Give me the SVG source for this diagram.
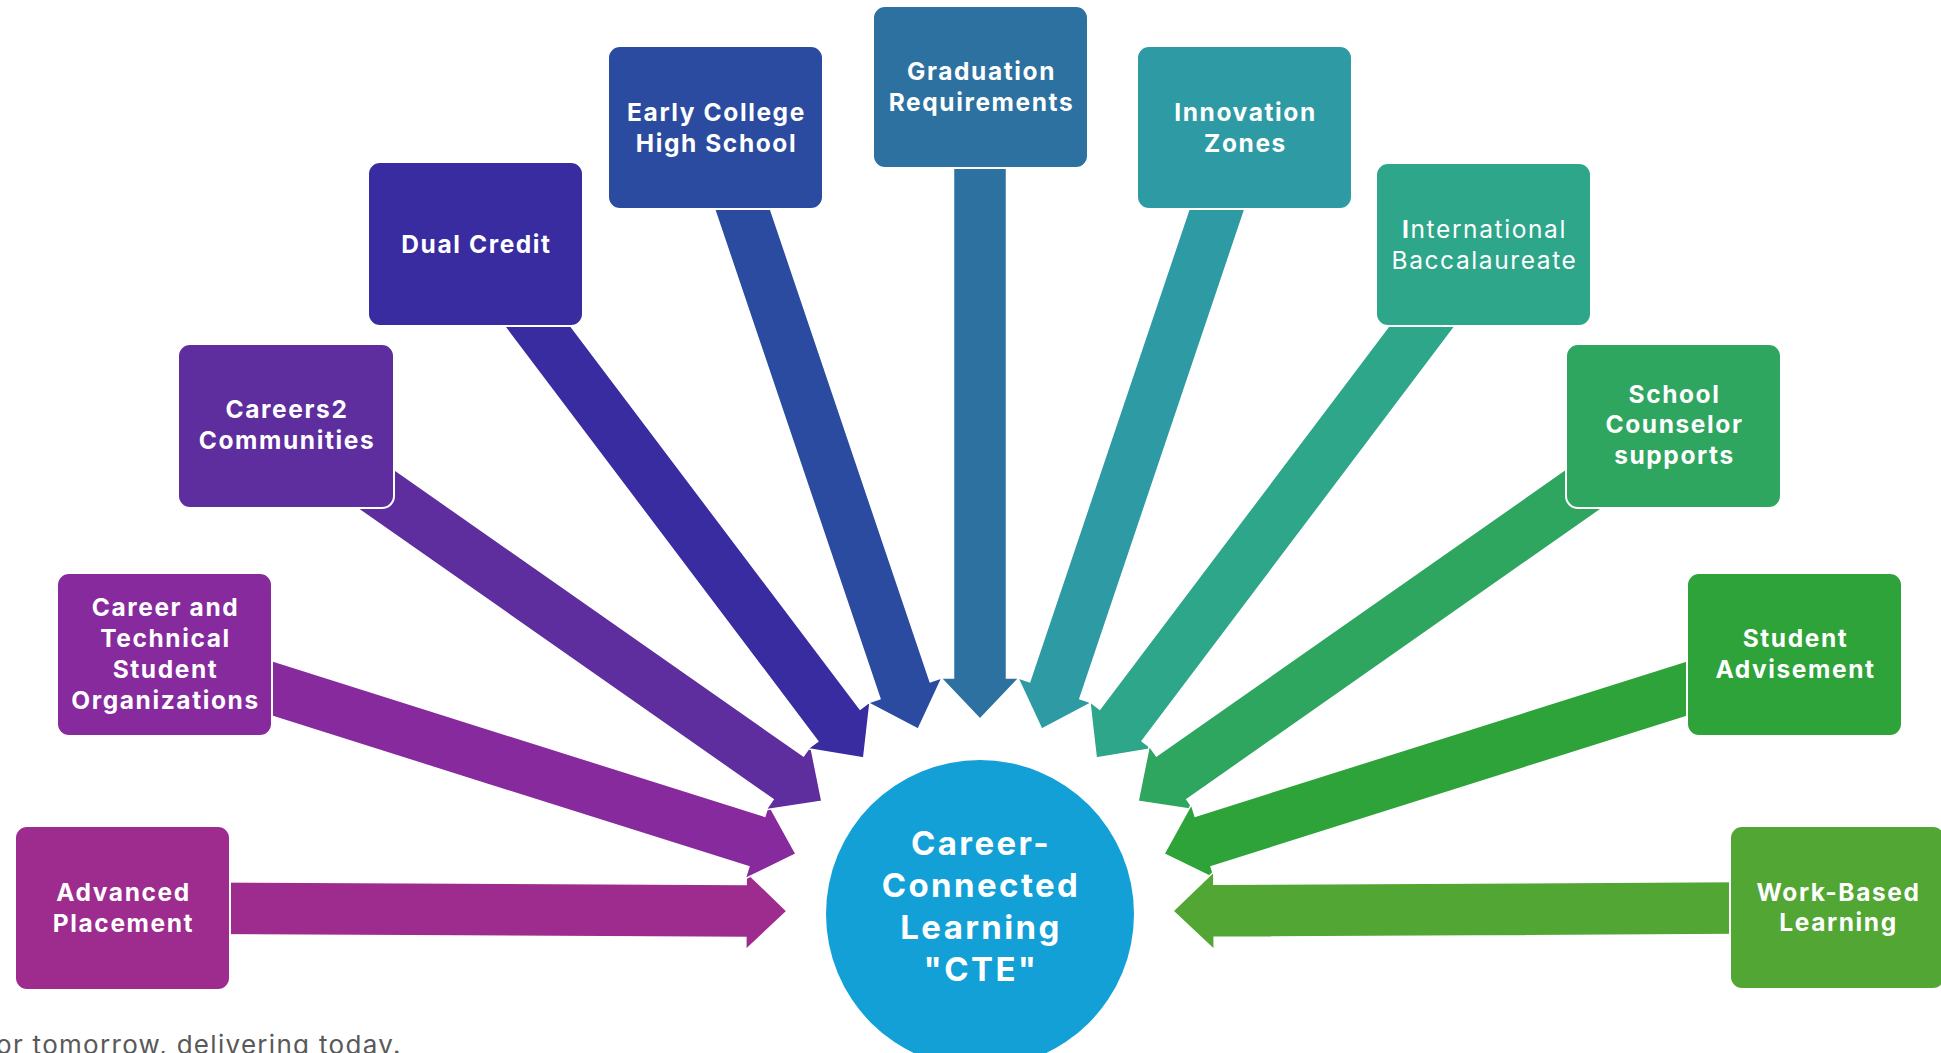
<svg xmlns="http://www.w3.org/2000/svg" width="1941" height="1053" viewBox="0 0 1941 1053">
<defs>
<style>
.box{stroke:#ffffff;stroke-width:2}
.arr{stroke:#ffffff;stroke-width:1.5;stroke-linejoin:miter}
.lbl{font-family:Inter,"Open Sans","Liberation Sans",sans-serif;font-weight:700;font-size:24.5px;letter-spacing:1.6px;fill:#ffffff;text-anchor:middle}
.reg{font-weight:400}
.ctr{font-family:Inter,"Open Sans","Liberation Sans",sans-serif;font-weight:700;font-size:33px;letter-spacing:2.4px;fill:#ffffff;text-anchor:middle}
.foot{font-family:Inter,"Open Sans","Liberation Sans",sans-serif;font-size:26px;letter-spacing:1.3px;fill:#595959}
</style>
</defs>
<rect width="1941" height="1053" fill="#ffffff"/>
<g id="connectors">
<path class="arr" fill="#9E2B8E" transform="translate(980,912) rotate(0.27)" d="M-857,-26.5 L-234,-26.5 L-234,-39 L-193,0 L-234,39 L-234,26.5 L-857,26.5 Z"/>
<path class="arr" fill="#862A9E" transform="translate(980,912) rotate(17.52)" d="M-855,-26.5 L-234,-26.5 L-234,-39 L-193,0 L-234,39 L-234,26.5 L-855,26.5 Z"/>
<path class="arr" fill="#5E2D9E" transform="translate(980,912) rotate(35.0)" d="M-847,-26.5 L-234,-26.5 L-234,-39 L-193,0 L-234,39 L-234,26.5 L-847,26.5 Z"/>
<path class="arr" fill="#392BA0" transform="translate(980,912) rotate(52.94)" d="M-837,-26.5 L-234,-26.5 L-234,-39 L-193,0 L-234,39 L-234,26.5 L-837,26.5 Z"/>
<path class="arr" fill="#2B4BA0" transform="translate(980,912) rotate(71.33)" d="M-828,-26.5 L-234,-26.5 L-234,-39 L-193,0 L-234,39 L-234,26.5 L-828,26.5 Z"/>
<path class="arr" fill="#2C71A0" transform="translate(980,912) rotate(90)" d="M-825,-26.5 L-234,-26.5 L-234,-39 L-193,0 L-234,39 L-234,26.5 L-825,26.5 Z"/>
<path class="arr" fill="#2E9BA4" transform="translate(980,912) rotate(108.63)" d="M-828,-26.5 L-234,-26.5 L-234,-39 L-193,0 L-234,39 L-234,26.5 L-828,26.5 Z"/>
<path class="arr" fill="#2DA68A" transform="translate(980,912) rotate(127.03)" d="M-837,-26.5 L-234,-26.5 L-234,-39 L-193,0 L-234,39 L-234,26.5 L-837,26.5 Z"/>
<path class="arr" fill="#2EA660" transform="translate(980,912) rotate(144.98)" d="M-847,-26.5 L-234,-26.5 L-234,-39 L-193,0 L-234,39 L-234,26.5 L-847,26.5 Z"/>
<path class="arr" fill="#2EA33A" transform="translate(980,912) rotate(162.46)" d="M-855,-26.5 L-234,-26.5 L-234,-39 L-193,0 L-234,39 L-234,26.5 L-855,26.5 Z"/>
<path class="arr" fill="#52A633" transform="translate(980,912) rotate(179.7)" d="M-857,-26.5 L-234,-26.5 L-234,-39 L-193,0 L-234,39 L-234,26.5 L-857,26.5 Z"/>
</g>
<g id="node-center">
<circle cx="980" cy="914" r="154" fill="#12A0D7"/>
<text class="ctr" x="981" y="855">Career-</text>
<text class="ctr" x="981" y="897">Connected</text>
<text class="ctr" x="981" y="939">Learning</text>
<text class="ctr" x="981" y="981">"CTE"</text>
</g>
<g id="node-ap">
<rect class="box" x="15" y="826" width="215" height="164" rx="12" fill="#9E2B8E"/>
<text class="lbl" x="123.5" y="901">Advanced</text>
<text class="lbl" x="123.5" y="932">Placement</text>
</g>
<g id="node-ctso">
<rect class="box" x="57" y="573" width="215" height="163" rx="12" fill="#862A9E"/>
<text class="lbl" x="165.5" y="615.5">Career and</text>
<text class="lbl" x="165.5" y="646.5">Technical</text>
<text class="lbl" x="165.5" y="677.5">Student</text>
<text class="lbl" x="165.5" y="708.5">Organizations</text>
</g>
<g id="node-c2c">
<rect class="box" x="178" y="344" width="216" height="164" rx="12" fill="#5E2D9E"/>
<text class="lbl" x="287" y="418">Careers2</text>
<text class="lbl" x="287" y="449">Communities</text>
</g>
<g id="node-dc">
<rect class="box" x="368" y="162" width="215" height="164" rx="12" fill="#392BA0"/>
<text class="lbl" x="476.5" y="252.5">Dual Credit</text>
</g>
<g id="node-echs">
<rect class="box" x="608" y="46" width="215" height="163" rx="12" fill="#2B4BA0"/>
<text class="lbl" x="716.5" y="120.5">Early College</text>
<text class="lbl" x="716.5" y="151.5">High School</text>
</g>
<g id="node-grad">
<rect class="box" x="873" y="6" width="215" height="162" rx="12" fill="#2C71A0"/>
<text class="lbl" x="981.5" y="80">Graduation</text>
<text class="lbl" x="981.5" y="111">Requirements</text>
</g>
<g id="node-iz">
<rect class="box" x="1137" y="46" width="215" height="163" rx="12" fill="#2E9BA4"/>
<text class="lbl" x="1245.5" y="120.5">Innovation</text>
<text class="lbl" x="1245.5" y="151.5">Zones</text>
</g>
<g id="node-ib">
<rect class="box" x="1376" y="163" width="215" height="163" rx="12" fill="#2DA68A"/>
<text class="lbl" x="1484.5" y="237.5"><tspan>I</tspan><tspan class="reg">nternational</tspan></text>
<text class="lbl reg" x="1484.5" y="268.5">Baccalaureate</text>
</g>
<g id="node-sc">
<rect class="box" x="1566" y="344" width="215" height="164" rx="12" fill="#2EA660"/>
<text class="lbl" x="1674.5" y="402.5">School</text>
<text class="lbl" x="1674.5" y="433">Counselor</text>
<text class="lbl" x="1674.5" y="463.5">supports</text>
</g>
<g id="node-sa">
<rect class="box" x="1687" y="573" width="215" height="163" rx="12" fill="#2EA33A"/>
<text class="lbl" x="1795.5" y="647">Student</text>
<text class="lbl" x="1795.5" y="678">Advisement</text>
</g>
<g id="node-wbl">
<rect class="box" x="1730" y="826" width="215" height="163" rx="12" fill="#52A633"/>
<text class="lbl" x="1838.5" y="900.5">Work-Based</text>
<text class="lbl" x="1838.5" y="931">Learning</text>
</g>
<text class="foot" x="-4" y="1054">or tomorrow, delivering today.</text>
</svg>
